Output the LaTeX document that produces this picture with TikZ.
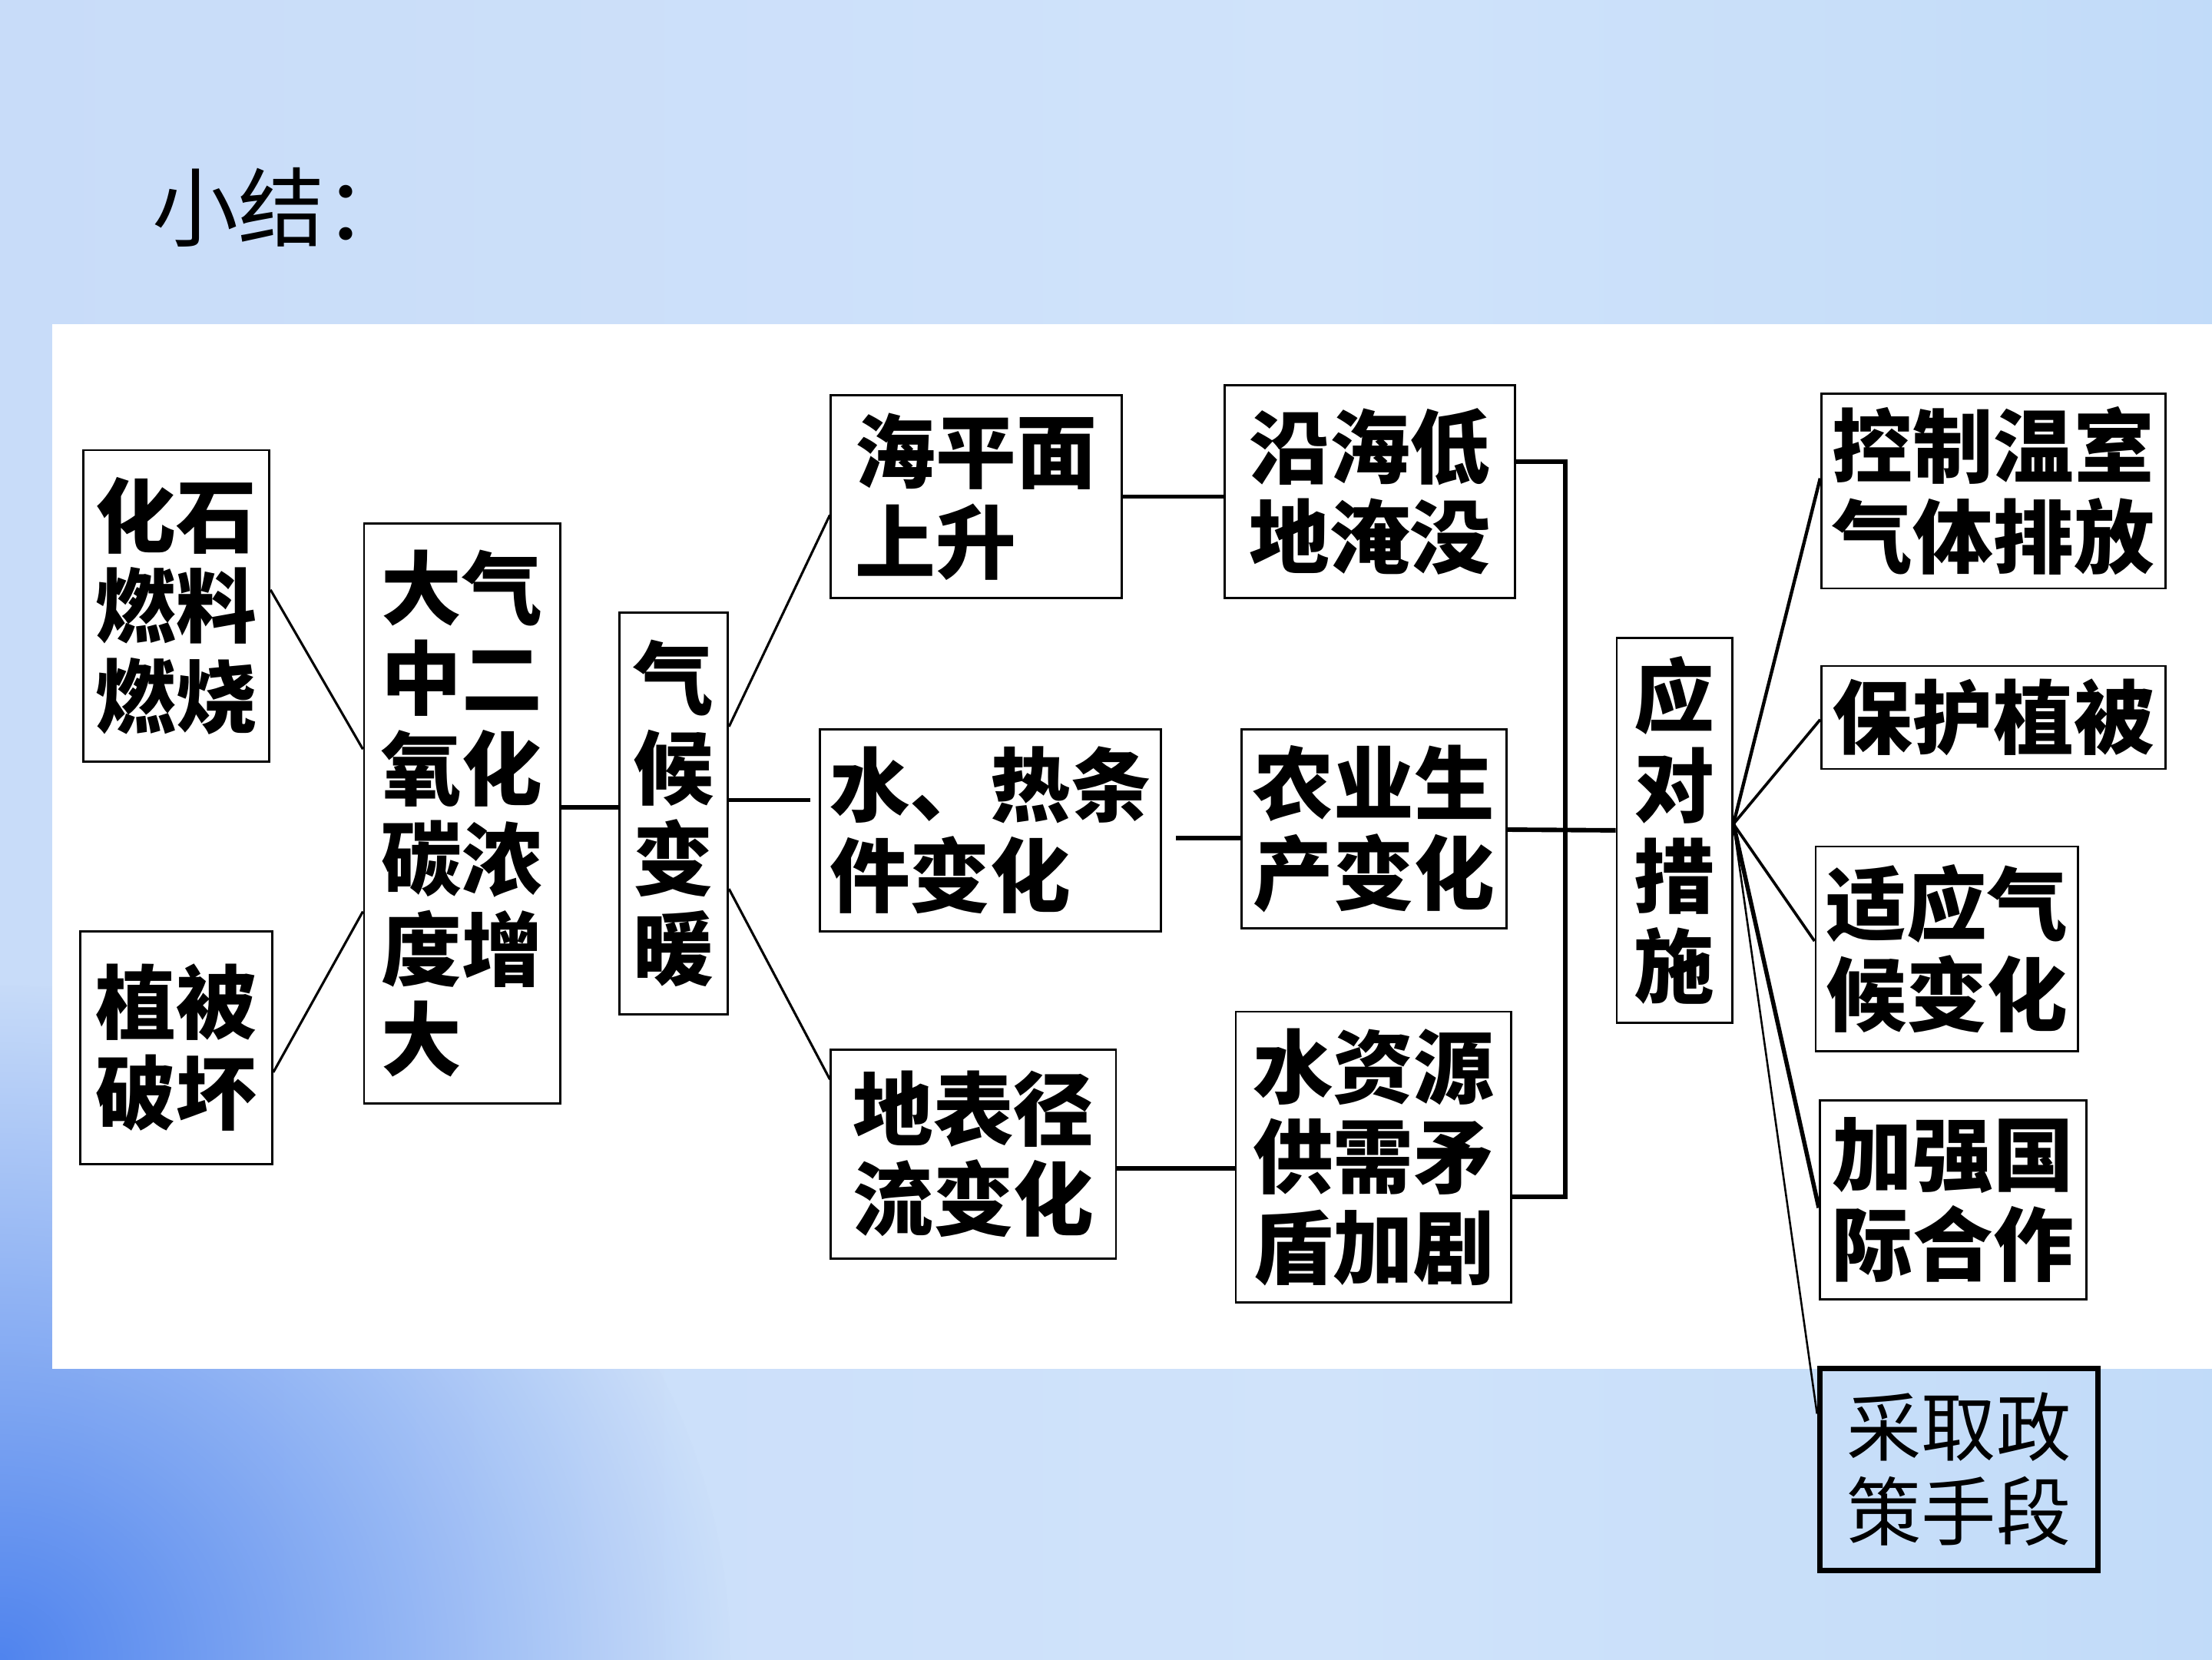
\documentclass[tikz,border=0pt]{standalone}
\usepackage{fontspec}
\newfontfamily\cjk{Noto Sans CJK SC}
\usetikzlibrary{fadings}
\definecolor{bg0}{HTML}{86AEF2}
\definecolor{bg1}{HTML}{B4CEF7}
\definecolor{bg2}{HTML}{C8DCF9}
\definecolor{bg3}{HTML}{D0E3FA}
\definecolor{bg4}{HTML}{BAD7F8}
\definecolor{bg5}{HTML}{A2C9F6}
\definecolor{bgD}{HTML}{5084EE}
\pgfdeclarehorizontalshading{bgshade}{100bp}{color(0bp)=(bg0); color(4bp)=(bg1); color(25bp)=(bg2); color(55bp)=(bg3); color(85bp)=(bg4); color(100bp)=(bg5)}
\tikzfading[name=cornerfade, inner color=transparent!0, outer color=transparent!100]
\begin{document}
\begin{tikzpicture}[x=1pt,y=-1pt,
  box/.style={draw=black, line width=1.5pt, inner sep=0pt, align=left,
    font=\cjk\bfseries\fontsize{57pt}{64pt}\selectfont},
  lnthin/.style={line width=1.7pt},
  lnthick/.style={line width=3.2pt}]
\useasboundingbox (0,0) rectangle (1568,1176);
\begin{scope}
\clip (0,0) rectangle (1568,1176);
\shade[shading=bgshade] (0,0) rectangle (1568,1176);
\fill[bgD, path fading=cornerfade] (0,1176) ellipse [x radius=520, y radius=480];
\end{scope}
\fill[white] (37,230) rectangle (1568,970);
\node[anchor=west, inner sep=0pt, font=\cjk\fontsize{61pt}{61pt}\selectfont] (title) at (108,147) {小结：};

\node[box, minimum width=132, minimum height=221] (A) at (125,429.5) {化石\\燃料\\燃烧};
\node[box, minimum width=136, minimum height=165] (B) at (125,742.5) {植被\\破坏};
\node[box, minimum width=139, minimum height=411] (C) at (327.5,576.5) {大气\\中二\\氧化\\碳浓\\度增\\大};
\node[box, minimum width=77, minimum height=285] (D) at (477.5,576.5) {气\\候\\变\\暖};
\node[box, minimum width=206, minimum height=144] (E) at (692,352) {海平面\\上升};
\node[box, minimum width=242, minimum height=143] (F) at (702,588.5) {水、热条\\件变化};
\node[box, minimum width=202, minimum height=148] (G) at (690,818) {地表径\\流变化};
\node[box, minimum width=206, minimum height=151] (H) at (971,348.5) {沿海低\\地淹没};
\node[box, minimum width=188, minimum height=141] (I) at (974,587.5) {农业生\\产变化};
\node[box, minimum width=195, minimum height=206] (J) at (973.5,820) {水资源\\供需矛\\盾加剧};
\node[box, minimum width=82, minimum height=273] (K) at (1187,588.5) {应\\对\\措\\施};
\node[box, minimum width=244, minimum height=138] (L) at (1413,348) {控制温室\\气体排放};
\node[box, minimum width=244, minimum height=73] (M) at (1413,508.5) {保护植被};
\node[box, minimum width=186, minimum height=145] (N) at (1380,672.5) {适应气\\候变化};
\node[box, minimum width=189, minimum height=141] (O) at (1384.5,850.5) {加强国\\际合作};
\node[box, line width=4pt, minimum width=197, minimum height=143,
  font=\cjk\fontsize{53pt}{60pt}\selectfont] (P) at (1388.5,1041.5) {采取政\\策手段};

% left side
\draw[lnthin] ([yshift=11.5pt]A.east) -- ([yshift=45.5pt]C.west);
\draw[lnthin] ([yshift=-17.5pt]B.east) -- ([yshift=-69.5pt]C.west);
\draw[lnthick] ([yshift=4.5pt]C.east) -- ([yshift=4.5pt]D.west);
% climate warming fan
\draw[lnthin] ([yshift=61.5pt]D.east) -- ([yshift=-13pt]E.west);
\draw[lnthick] ([yshift=9.5pt]D.east) -- ([xshift=-6pt,yshift=21.5pt]F.west);
\draw[lnthin] ([yshift=-53.5pt]D.east) -- ([yshift=53pt]G.west);
% second column links
\draw[lnthick] (E.east) -- ([yshift=-3.5pt]H.west);
\draw[lnthick] ([xshift=10pt,yshift=-5.5pt]F.east) -- ([yshift=-6.5pt]I.west);
\draw[lnthick] ([yshift=-10pt]G.east) -- ([yshift=-8pt]J.west);
% bracket
\draw[lnthick] ([yshift=21.5pt]H.east) -- ++(35,0) |- ([yshift=-28pt]J.east);
\draw[lnthick] ([yshift=-0.5pt]I.east) -- (K.west);
% response fan
\draw[line width=2.4pt] ([yshift=4.5pt]K.east) -- ([yshift=9pt]L.west);
\draw[line width=2pt] ([yshift=4.5pt]K.east) -- ([yshift=-1.5pt]M.west);
\draw[line width=2pt] ([yshift=4.5pt]K.east) -- ([yshift=5.5pt]N.west);
\draw[line width=3pt] ([yshift=4.5pt]K.east) -- ([yshift=-5.5pt]O.west);
\draw[line width=1.4pt] ([yshift=4.5pt]K.east) -- ([yshift=39.5pt]P.west);
\end{tikzpicture}
\end{document}
